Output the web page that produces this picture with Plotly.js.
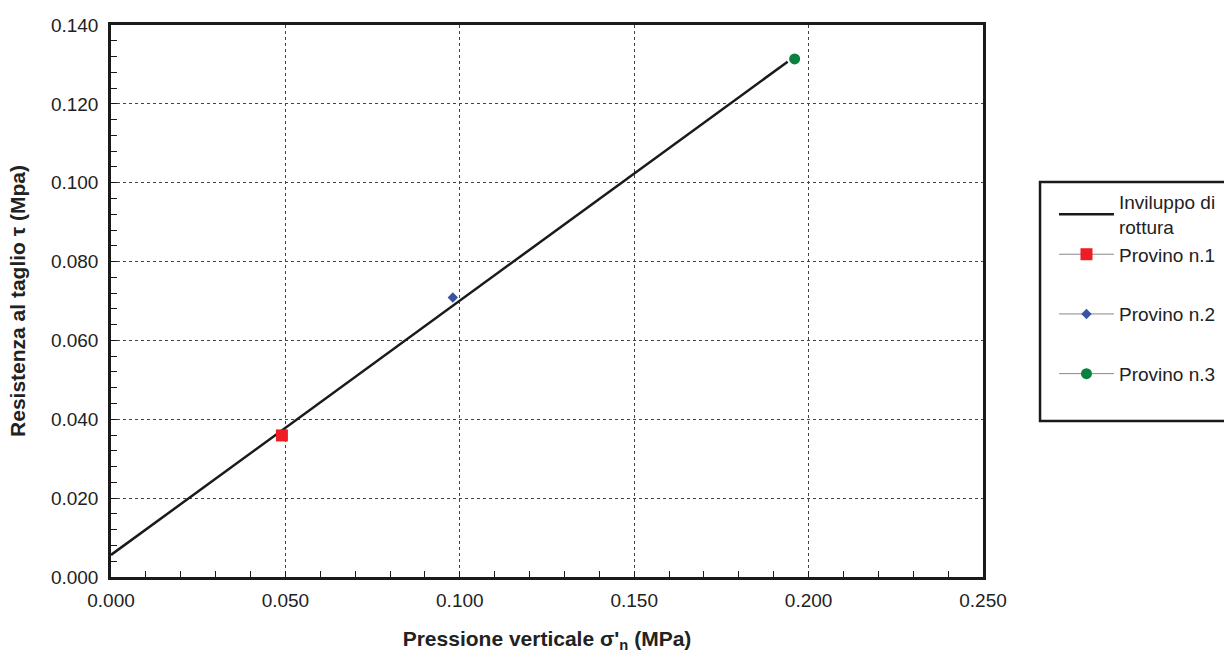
<!DOCTYPE html>
<html>
<head>
<meta charset="utf-8">
<script src="https://cdn.plot.ly/plotly-3.0.1.min.js"></script>
<style>html,body{margin:0;padding:0;background:#fff;}#chart{width:1224px;height:653px;}</style>
</head>
<body>
<div id="chart"></div>
<script>
// Envelope line (Inviluppo di rottura)
const envelopeX = [0.000, 0.194];
const envelopeY = [0.0056, 0.1307];
// Specimens
const specimenNames = ["Provino n.1", "Provino n.2", "Provino n.3"];
const specimenX = [0.049, 0.098, 0.196];
const specimenY = [0.0359, 0.0709, 0.1314];
const specimenColors = ["#ee1c25", "#3953a4", "#0a8041"];
const specimenSymbols = ["square", "diamond", "circle"];
const specimenSizes = [12, 8, 11];
const legendGroups = ["g0", "g1", "g2"];

const FONT = "'Liberation Sans', Arial, sans-serif";

const traces = [{
  x: envelopeX, y: envelopeY, mode: "lines", name: "Inviluppo di<br>rottura",
  line: {color: "#1a1a1a", width: 2.5}, legendgroup: "g0"
}];
specimenNames.forEach((n, i) => {
  traces.push({
    x: [specimenX[i]], y: [specimenY[i]], mode: "lines+markers", name: n,
    legendgroup: legendGroups[i],
    line: {color: "#888", width: 1},
    marker: {color: specimenColors[i], symbol: specimenSymbols[i], size: specimenSizes[i]}
  });
});

const axisCommon = {
  showline: true, mirror: true, linecolor: "#1a1a1a", linewidth: 2.5,
  ticks: "inside", ticklen: 6, tickcolor: "#1a1a1a", tickwidth: 1,
  showgrid: true, gridcolor: "#444", gridwidth: 1, griddash: "dot",
  zeroline: false, tickformat: ".3f",
  tickfont: {family: FONT, size: 19, color: "#222"}
};

const layout = {
  width: 1224, height: 653,
  margin: {l: 111, r: 241, t: 25, b: 76, autoexpand: false},
  paper_bgcolor: "#fff", plot_bgcolor: "#fff",
  font: {family: FONT, color: "#222"},
  xaxis: Object.assign({}, axisCommon, {
    range: [0, 0.25], dtick: 0.05, ticklabelstandoff: 4,
    minor: {dtick: 0.01, ticks: "inside", ticklen: 6, tickcolor: "#1a1a1a", showgrid: false},
    title: {text: "<b>Pressione verticale σ'<sub>n</sub> (MPa)</b>", font: {family: FONT, size: 21, color: "#222"}, standoff: 23}
  }),
  yaxis: Object.assign({}, axisCommon, {
    range: [0, 0.14], dtick: 0.02, ticklabelstandoff: 6,
    minor: {dtick: 0.004, ticks: "inside", ticklen: 6, tickcolor: "#1a1a1a", showgrid: false},
    title: {text: "<b>Resistenza al taglio τ (Mpa)</b>", font: {family: FONT, size: 21, color: "#222"}, standoff: 20}
  }),
  showlegend: true,
  legend: {
    x: 1.0814, xanchor: "left", y: 0.7138, yanchor: "top",
    borderwidth: 0, bgcolor: "rgba(0,0,0,0)",
    font: {family: FONT, size: 19, color: "#222"}, tracegroupgap: 32,
    itemwidth: 55
  },
  shapes: [{
    type: "rect", xref: "paper", yref: "paper",
    x0: 1.0654, x1: 1.2810, y0: 0.2826, y1: 0.7156,
    line: {color: "#1a1a1a", width: 2.5}, fillcolor: "rgba(0,0,0,0)", layer: "above"
  }]
};

Plotly.newPlot("chart", traces, layout, {displayModeBar: false});
</script>
</body>
</html>
